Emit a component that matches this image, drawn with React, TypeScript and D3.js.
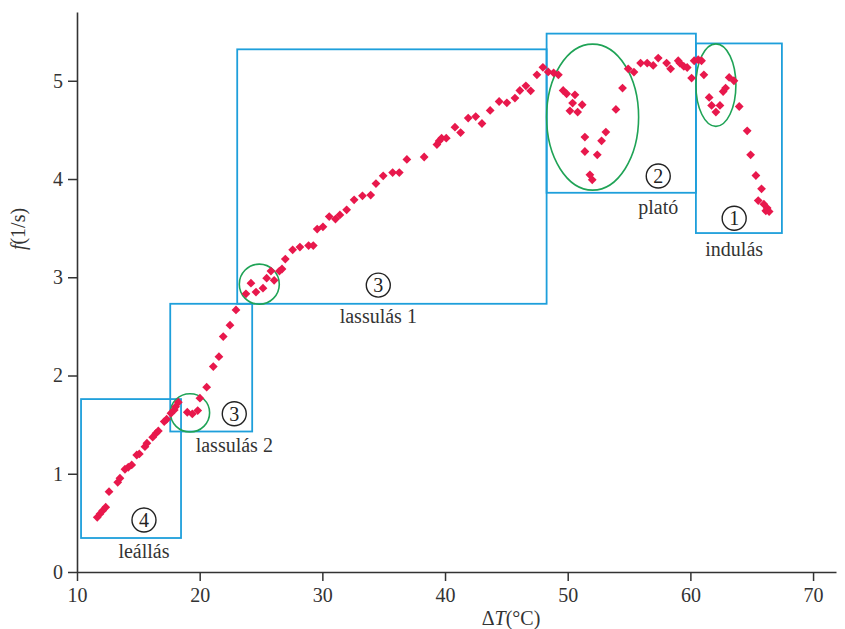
import React, { useEffect, useRef } from 'react';
import * as d3 from 'd3';

// ΔT (°C) and f (1/s), in order of temperature
const dT = [
  11.65, 11.87, 12.09, 12.34, 12.61, 13.32, 13.5, 13.91, 14.18, 14.46,
  14.87, 15.08, 15.54, 15.7, 16.17, 16.44, 16.63, 17.11, 17.31, 17.66,
  17.93, 18.04, 18.26, 18.99, 19.4, 19.84, 20.02, 20.57, 21.11, 21.57,
  21.92, 22.47, 22.96, 23.77, 24.18, 24.59, 25.16, 25.46, 25.81, 26.07,
  26.5, 26.71, 26.98, 27.58, 28.17, 28.88, 29.26, 29.58, 30.05, 30.56,
  31.07, 31.43, 31.98, 32.59, 33.27, 33.94, 34.37, 34.96, 35.73, 36.27,
  36.89, 38.3, 39.34, 39.52, 39.72, 40.1, 40.81, 41.27, 41.89, 42.5,
  43.01, 43.68, 44.41, 45.04, 45.7, 46.1, 46.59, 46.98, 47.49, 47.98,
  48.41, 48.85, 49.24, 49.63, 49.91, 50.4, 50.59, 50.18, 50.81, 51.18,
  51.4, 51.4, 51.81, 52.0, 52.41, 52.76, 53.11, 53.93, 54.47, 54.93,
  55.4, 55.94, 56.48, 56.97, 57.38, 58.06, 58.39, 59.01, 59.14, 59.47,
  59.74, 60.1, 60.31, 60.64, 60.91, 61.1, 61.53, 61.73, 62.08, 62.41,
  62.67, 62.87, 63.16, 63.55, 63.98, 64.63, 64.91, 65.34, 65.8, 65.53,
  65.99, 66.26, 66.15, 66.42
];
const freq = [
  0.557, 0.591, 0.624, 0.659, 0.818, 0.913, 0.954, 1.046, 1.066, 1.09,
  1.191, 1.202, 1.276, 1.311, 1.372, 1.412, 1.436, 1.531, 1.555, 1.616,
  1.65, 1.683, 1.728, 1.626, 1.609, 1.643, 1.769, 1.881, 2.091, 2.192,
  2.396, 2.512, 2.668, 2.831, 2.94, 2.849, 2.889, 2.991, 3.063, 2.969,
  3.063, 3.084, 3.185, 3.279, 3.307, 3.323, 3.323, 3.49, 3.513, 3.618,
  3.592, 3.635, 3.686, 3.788, 3.829, 3.837, 3.954, 4.033, 4.066, 4.066,
  4.199, 4.224, 4.351, 4.387, 4.416, 4.416, 4.528, 4.473, 4.62, 4.636,
  4.565, 4.698, 4.789, 4.776, 4.824, 4.901, 4.949, 4.898, 5.061, 5.137,
  5.09, 5.081, 5.061, 4.901, 4.868, 4.773, 4.857, 4.694, 4.681, 4.756,
  4.427, 4.28, 4.043, 3.992, 4.246, 4.389, 4.478, 4.708, 4.926, 5.122,
  5.089, 5.18, 5.18, 5.156, 5.231, 5.18, 5.122, 5.204, 5.18, 5.146,
  5.135, 5.027, 5.204, 5.214, 5.204, 5.061, 4.83, 4.749, 4.681, 4.749,
  4.891, 4.926, 5.034, 5.0, 4.738, 4.491, 4.246, 4.036, 3.9, 3.781,
  3.744, 3.704, 3.676, 3.669
];

const xTicks = [10, 20, 30, 40, 50, 60, 70];
const yTicks = [0, 1, 2, 3, 4, 5];

// phase boxes in data units: [x0, x1, y0, y1]
const phaseBoxes = [
  [10.33, 18.48, 0.346, 1.76],
  [17.6, 24.28, 1.43, 2.73],
  [23.06, 48.28, 2.73, 5.32],
  [48.28, 60.45, 3.86, 5.48],
  [60.45, 67.46, 3.45, 5.38]
];

// green ellipses around the dips: [cx, cy, rx, ry] in data units
const dipRings = [
  [19.21, 1.62, 1.6, 0.195],
  [24.86, 2.93, 1.63, 0.204],
  [52.03, 4.63, 3.75, 0.743],
  [62.08, 4.956, 1.63, 0.42]
];

// circled phase numbers and their captions
const phaseNums = ['4', '3', '3', '2', '1'];
const phaseNames = ['leállás', 'lassulás 2', 'lassulás 1', 'plató', 'indulás'];
const phaseNumX = [15.46, 22.82, 34.56, 57.38, 63.57];
const phaseNumY = [0.53, 1.61, 2.92, 4.03, 3.6];

const W = 845, H = 629;
const FONT = "'Liberation Serif', 'DejaVu Serif', serif";
const INK = '#333';

const App = () => {
  const ref = useRef<SVGSVGElement>(null);

  useEffect(() => {
    const svg = d3.select(ref.current);
    svg.selectAll('*').remove();

    const x = d3.scaleLinear().domain([10, 71.87]).range([77, 836]);
    const y = d3.scaleLinear().domain([0, 5.7]).range([572, 12]);

    // boxes
    svg.append('g')
      .selectAll('rect')
      .data(phaseBoxes)
      .enter().append('rect')
      .attr('x', d => x(d[0]))
      .attr('y', d => y(d[3]))
      .attr('width', d => x(d[1]) - x(d[0]))
      .attr('height', d => y(d[2]) - y(d[3]))
      .attr('fill', 'none')
      .attr('stroke', '#1e9fdb')
      .attr('stroke-width', 1.8);

    // ellipses
    svg.append('g')
      .selectAll('ellipse')
      .data(dipRings)
      .enter().append('ellipse')
      .attr('cx', d => x(d[0]))
      .attr('cy', d => y(d[1]))
      .attr('rx', d => x(d[0] + d[2]) - x(d[0]))
      .attr('ry', d => y(d[1] - d[3]) - y(d[1]))
      .attr('fill', 'none')
      .attr('stroke', '#1fa356')
      .attr('stroke-width', 1.6);

    // data points (diamonds)
    const diamond = 'M0,-4.4L4.4,0L0,4.4L-4.4,0Z';
    svg.append('g')
      .selectAll('path')
      .data(dT.map((t, i) => [t, freq[i]]))
      .enter().append('path')
      .attr('d', diamond)
      .attr('transform', d => `translate(${x(d[0])},${y(d[1])})`)
      .attr('fill', '#e8184c');

    // axes
    const xAxis = svg.append('g')
      .attr('transform', 'translate(0,572)')
      .call(d3.axisBottom(x).tickValues(xTicks).tickFormat(d3.format('d'))
        .tickSize(9).tickSizeOuter(0).tickPadding(7));
    const yAxis = svg.append('g')
      .attr('transform', 'translate(77,0)')
      .call(d3.axisLeft(y).tickValues(yTicks).tickFormat(d3.format('d'))
        .tickSize(9).tickSizeOuter(0).tickPadding(5));
    [xAxis, yAxis].forEach(g => {
      g.attr('font-family', null).attr('font-size', null);
      g.select('.domain').attr('stroke', INK).attr('stroke-width', 1.6);
      g.selectAll('.tick line').attr('stroke', INK).attr('stroke-width', 1.5);
      g.selectAll('.tick text').attr('fill', INK)
        .style('font-family', FONT).style('font-size', '20px');
    });

    // axis titles
    const xt = svg.append('text')
      .attr('x', 511).attr('y', 625)
      .attr('text-anchor', 'middle')
      .style('font-family', FONT).style('font-size', '20px').attr('fill', INK);
    xt.append('tspan').text('Δ');
    xt.append('tspan').attr('font-style', 'italic').text('T');
    xt.append('tspan').text('(°C)');

    const yt = svg.append('text')
      .attr('transform', 'translate(25,229) rotate(-90)')
      .attr('text-anchor', 'middle')
      .style('font-family', FONT).style('font-size', '20px').attr('fill', INK);
    yt.append('tspan').attr('font-style', 'italic').text('f');
    yt.append('tspan').text('(1/s)');

    // circled numbers + captions
    const ann = svg.append('g')
      .selectAll('g')
      .data(phaseNums.map((n, i) => ({ n, name: phaseNames[i], cx: x(phaseNumX[i]), cy: y(phaseNumY[i]) })))
      .enter().append('g')
      .attr('transform', d => `translate(${d.cx},${d.cy})`);
    ann.append('circle')
      .attr('r', 12)
      .attr('fill', 'none')
      .attr('stroke', '#222')
      .attr('stroke-width', 1.4);
    ann.append('text')
      .attr('text-anchor', 'middle')
      .attr('dy', '0.35em')
      .style('font-family', FONT).style('font-size', '20px').attr('fill', '#222')
      .text(d => d.n);
    ann.append('text')
      .attr('text-anchor', 'middle')
      .attr('y', 38)
      .style('font-family', FONT).style('font-size', '20px').attr('fill', INK)
      .text(d => d.name);
  }, []);

  return (
    <svg ref={ref} width={W} height={H}
      style={{ position: 'absolute', left: 0, top: 0, background: '#fff' }} />
  );
};

export default App;
